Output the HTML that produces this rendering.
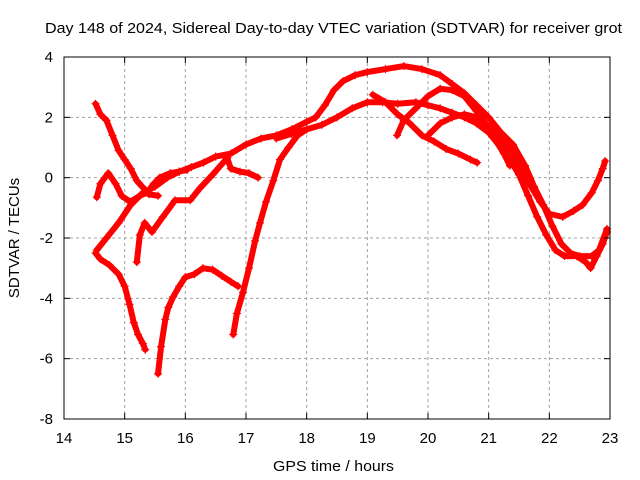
<!DOCTYPE html>
<html><head><meta charset="utf-8"><style>
body{margin:0;background:#fff}
svg{display:block;font-family:"Liberation Sans",sans-serif}
</style></head><body>
<svg id="chart" width="640" height="480">
<rect width="640" height="480" fill="#fff"/>
<text x="45" y="33" font-size="15" textLength="577" lengthAdjust="spacingAndGlyphs">Day 148 of 2024, Sidereal Day-to-day VTEC variation (SDTVAR) for receiver grot</text>
<text transform="translate(19,238) rotate(-90)" font-size="15" text-anchor="middle">SDTVAR / TECUs</text>
<text x="273" y="471" font-size="15" textLength="121" lengthAdjust="spacingAndGlyphs">GPS time / hours</text>
<g id="grid"></g>
<g id="marks"></g>
<rect x="64" y="57" width="546" height="362" fill="none" stroke="#000" stroke-width="1"/>
<g id="ticks"></g>
</svg>
<script>
const xTicks=[14,15,16,17,18,19,20,21,22,23];
const yTicks=[-8,-6,-4,-2,0,2,4];
const trackA=[[14.54,-2.4],[14.7,-2.0],[14.9,-1.5],[15.1,-0.9],[15.3,-0.5],[15.5,-0.3],[15.7,0.0],[15.9,0.2],[16.1,0.35],[16.3,0.5],[16.5,0.7],[16.75,0.8],[17,1.1],[17.25,1.3],[17.5,1.4],[17.75,1.6],[18,1.85],[18.15,2.0],[18.3,2.4],[18.45,2.9],[18.6,3.2],[18.8,3.4],[19.0,3.5],[19.3,3.6],[19.6,3.7],[19.9,3.6],[20.2,3.4],[20.4,3.1],[20.6,2.8],[20.8,2.4],[21.0,2.0],[21.2,1.5],[21.4,1.1],[21.6,0.4],[21.75,-0.3],[21.9,-0.9],[22.05,-1.6],[22.2,-2.2],[22.35,-2.5],[22.5,-2.6],[22.7,-2.6],[22.82,-2.4],[22.95,-1.7]];
const trackB=[[17.5,1.3],[17.75,1.45],[18,1.6],[18.25,1.75],[18.5,2.0],[18.75,2.3],[19,2.5],[19.25,2.5],[19.5,2.45],[19.8,2.5],[20.0,2.4],[20.2,2.3],[20.4,2.15],[20.6,2.0],[20.8,1.8],[21.0,1.5],[21.2,1.0],[21.35,0.6],[21.5,0.1],[21.65,-0.6],[21.8,-1.3],[21.95,-1.9],[22.1,-2.4],[22.25,-2.6],[22.45,-2.6],[22.6,-2.8],[22.68,-3.0],[22.78,-2.6],[22.88,-2.2],[22.95,-1.8]];
const trackC=[[19.09,2.75],[19.3,2.5],[19.5,2.1],[19.7,1.8],[19.9,1.4],[20.1,1.2],[20.3,0.95],[20.5,0.8],[20.7,0.6],[20.81,0.5]];
const trackD=[[19.49,1.4],[19.6,1.9],[19.8,2.3],[20.0,2.7],[20.2,2.95],[20.4,2.9],[20.6,2.7],[20.8,2.2],[20.95,1.8],[21.1,1.3],[21.25,0.8],[21.35,0.4]];
const trackE=[[20.0,1.4],[20.2,1.8],[20.4,2.0],[20.6,2.1],[20.8,2.0],[21.0,1.7],[21.2,1.3],[21.4,0.8],[21.55,0.2],[21.7,-0.3],[21.85,-0.8],[22.0,-1.2],[22.22,-1.3],[22.4,-1.1],[22.55,-0.9],[22.7,-0.5],[22.8,-0.1],[22.88,0.3],[22.92,0.55]];
const trackF=[[14.52,2.45],[14.6,2.1],[14.7,1.9],[14.8,1.4],[14.9,0.9],[15.0,0.6],[15.1,0.3],[15.2,-0.1],[15.29,-0.3],[15.4,-0.55],[15.55,-0.6]];
const trackG=[[14.52,-2.5],[14.6,-2.7],[14.75,-2.9],[14.9,-3.2],[15.0,-3.6],[15.08,-4.2],[15.15,-4.8],[15.22,-5.2],[15.3,-5.5],[15.34,-5.7]];
const trackH=[[15.55,-6.5],[15.6,-5.6],[15.67,-4.7],[15.72,-4.3],[15.8,-3.95],[15.9,-3.6],[16.0,-3.3],[16.15,-3.2],[16.29,-3.0],[16.45,-3.05],[16.6,-3.25],[16.75,-3.45],[16.87,-3.6]];
const trackI=[[16.79,-5.2],[16.85,-4.5],[16.95,-3.8],[17.05,-3.0],[17.15,-2.1],[17.23,-1.5],[17.33,-0.8],[17.45,-0.1],[17.56,0.6],[17.7,1.0],[17.85,1.4],[18.0,1.6]];
const trackJ=[[14.54,-0.65],[14.6,-0.2],[14.73,0.15],[14.85,-0.2],[14.95,-0.6],[15.09,-0.8],[15.25,-0.6],[15.37,-0.5],[15.48,-0.2],[15.58,0.0],[15.75,0.15],[15.9,0.2],[16.03,0.26]];
const trackK=[[15.2,-2.8],[15.25,-1.9],[15.33,-1.5],[15.45,-1.8],[15.63,-1.3],[15.83,-0.75],[16.08,-0.75],[16.24,-0.35],[16.45,0.1],[16.69,0.65],[16.75,0.3],[16.9,0.2],[17.05,0.15],[17.2,0.0]];
const tracks=[trackA,trackB,trackC,trackD,trackE,trackF,trackG,trackH,trackI,trackJ,trackK];
const NS='http://www.w3.org/2000/svg';
const X0=64,X1=610,Y0=419,Y1=57;
function sx(h){return X0+(h-14)/(23-14)*(X1-X0);}
function sy(v){return Y0-(v+8)/12*(Y0-Y1);}
const grid=document.getElementById('grid'),ticks=document.getElementById('ticks'),marks=document.getElementById('marks');
function mk(tag,at,parent){const e=document.createElementNS(NS,tag);for(const k in at)e.setAttribute(k,at[k]);parent.appendChild(e);return e;}
xTicks.forEach(t=>{const x=sx(t);
 if(t>14&&t<23){const g=mk('line',{x1:x,x2:x,y1:Y1,y2:Y0,stroke:'#a0a0a0','stroke-dasharray':'3,3'},grid);
 
 }
 const a=mk('line',{x1:x,x2:x,y1:Y0,y2:Y0-6,stroke:'#000'},ticks);
 
 
 const b=mk('line',{x1:x,x2:x,y1:Y1,y2:Y1+6,stroke:'#000'},ticks);
 
 
 const l=mk('text',{x:x,y:443,'font-size':15,'text-anchor':'middle'},ticks);l.textContent=t;
 
 
});
yTicks.forEach(t=>{const y=sy(t);
 if(t>-8&&t<4){const g=mk('line',{x1:X0,x2:X1,y1:y,y2:y,stroke:'#a0a0a0','stroke-dasharray':'3,3'},grid);
 
 }
 const a=mk('line',{x1:X0,x2:X0+6,y1:y,y2:y,stroke:'#000'},ticks);
 
 
 const b=mk('line',{x1:X1,x2:X1-6,y1:y,y2:y,stroke:'#000'},ticks);
 
 
 const l=mk('text',{x:53,y:y+5,'font-size':15,'text-anchor':'end'},ticks);l.textContent=t;
 
 
});
tracks.forEach((tr,i)=>{
 const pl=mk('polyline',{points:tr.map(p=>sx(p[0])+','+sy(p[1])).join(' '),fill:'none',stroke:'#ff0000','stroke-width':6,'stroke-linejoin':'round','stroke-linecap':'round'},marks);
 
 
 tr.forEach(p=>{const x=sx(p[0]),y=sy(p[1]);
  const m=mk('path',{d:`M${x-4},${y}H${x+4}M${x},${y-4}V${y+4}`,stroke:'#ff0000','stroke-width':1.2},marks);
  
  
 });
});
</script>
</body></html>
